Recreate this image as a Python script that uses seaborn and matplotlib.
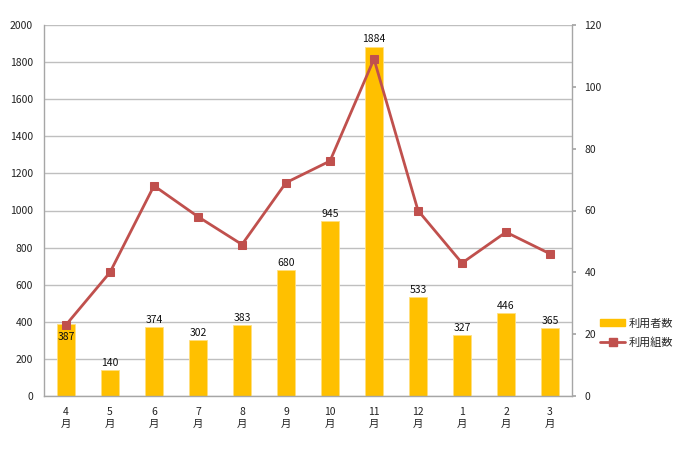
import matplotlib
matplotlib.use("Agg")
import matplotlib.pyplot as plt
import seaborn as sns
import pandas as pd
from matplotlib.patches import Patch
from matplotlib.lines import Line2D

months = ["4\n月", "5\n月", "6\n月", "7\n月", "8\n月", "9\n月", "10\n月", "11\n月", "12\n月", "1\n月", "2\n月", "3\n月"]
users = [387, 140, 374, 302, 383, 680, 945, 1884, 533, 327, 446, 365]
groups = [23, 40, 68, 58, 49, 69, 76, 109, 60, 43, 53, 46]
left_ticks = list(range(0, 2001, 200))
right_ticks = list(range(0, 121, 20))

sns.set_theme(style="white")
plt.rcParams['font.family'] = ['Noto Sans CJK JP', 'DejaVu Sans']

df = pd.DataFrame({"month": months, "users": users, "groups": groups})

fig = plt.figure(figsize=(6.85, 4.5), dpi=100)
ax = fig.add_axes([44/685, 54/450, 528/685, 371/450])
bar_color = "#FFC000"
line_color = "#C0504D"
grid_color = "#BFBFBF"
fs = 7.5

sns.barplot(data=df, x="month", y="users", color=bar_color, width=0.4, ax=ax,
            saturation=1, edgecolor="#FFE080", linewidth=0.6, zorder=2)
ax.set_ylim(0, 2000)
ax.set_xlim(-0.5, len(months) - 0.5)
ax.set_yticks(left_ticks)
ax.set_yticklabels([str(t) for t in left_ticks], fontsize=fs, color="#222222")
ax.yaxis.grid(True, color=grid_color, linewidth=1.0, zorder=0)
ax.set_axisbelow(True)
ax.set_xlabel("")
ax.set_ylabel("")
ax.tick_params(axis="x", labelsize=fs, colors="#222222", length=0, pad=8)
ax.tick_params(axis="y", length=0, pad=8)
for s in ["top", "right"]:
    ax.spines[s].set_visible(False)
for s in ["left", "bottom"]:
    ax.spines[s].set_color("#A6A6A6")
    ax.spines[s].set_linewidth(1.0)

for i, v in enumerate(users):
    off = -13 if i == 0 else 1.5
    ax.annotate(str(v), (i, v), xytext=(0, off), textcoords="offset points",
                ha="center", va="bottom", fontsize=fs, color="#111111", zorder=5)

ax2 = ax.twinx()
sns.lineplot(x=list(range(len(months))), y=groups, ax=ax2, color=line_color,
             marker="s", markersize=6, linewidth=2, markeredgecolor=line_color, zorder=4)
ax2.set_ylim(0, 120)
ax2.set_yticks(right_ticks)
ax2.set_yticklabels([str(t) for t in right_ticks], fontsize=fs, color="#222222")
ax2.tick_params(axis="y", length=3, color="#A6A6A6", pad=6)
ax2.grid(False)
for s in ["top", "left", "bottom"]:
    ax2.spines[s].set_visible(False)
ax2.spines["right"].set_color("#A6A6A6")
ax2.spines["right"].set_linewidth(1.0)
ax2.set_ylabel("")

handles = [Patch(facecolor=bar_color, edgecolor=bar_color, label="利用者数"),
           Line2D([0], [0], color=line_color, lw=2, marker="s", markersize=6, label="利用組数")]
fig.legend(handles=handles, loc="center left", bbox_to_anchor=(0.862, 0.26),
           frameon=False, fontsize=8, handlelength=2.2, handleheight=0.6,
           handletextpad=0.3, labelspacing=0.8)

fig.savefig("out.png", dpi=100)
